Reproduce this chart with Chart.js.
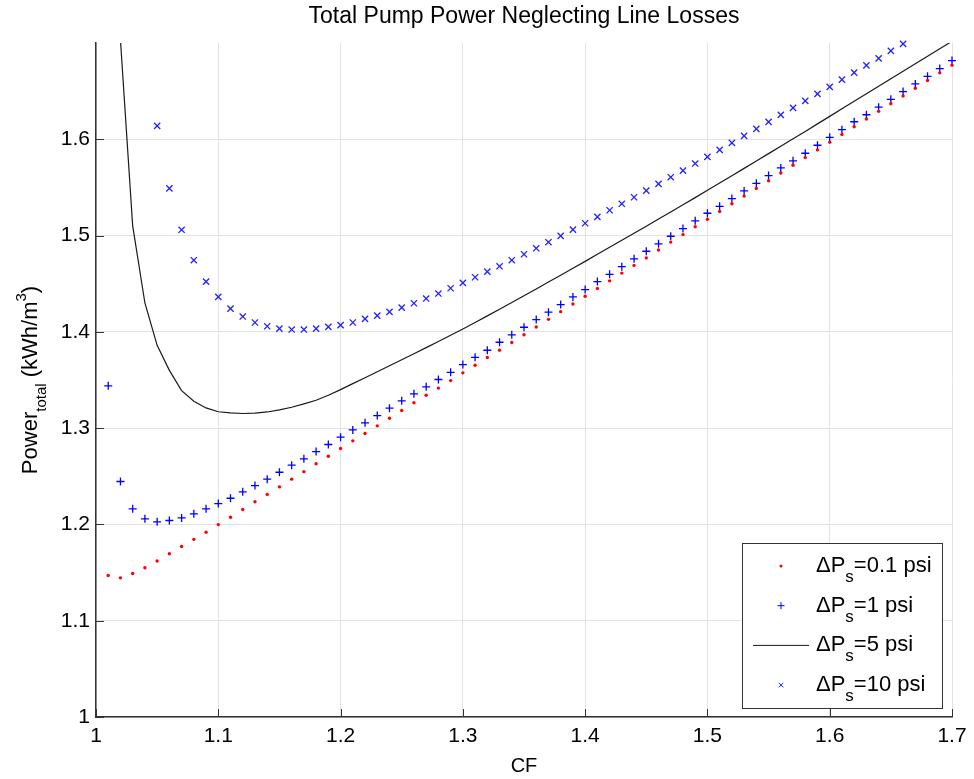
<!DOCTYPE html>
<html>
<head>
<meta charset="utf-8">
<title>Total Pump Power Neglecting Line Losses</title>
<script src="https://cdn.jsdelivr.net/npm/chart.js@4.4.1/dist/chart.umd.min.js"></script>
<style>
    html, body { margin: 0; padding: 0; background: #ffffff; }
    #contenedor { position: relative; width: 974px; height: 779px; }
</style>
</head>
<body>
<div id="contenedor"><canvas id="grafico-potencia"></canvas></div>
<script>
// Valores de CF (eje x)
const valoresCF = [
    1.01, 1.02, 1.03, 1.04, 1.05, 1.06, 1.07, 1.08, 1.09, 1.10,
    1.11, 1.12, 1.13, 1.14, 1.15, 1.16, 1.17, 1.18, 1.19, 1.20,
    1.21, 1.22, 1.23, 1.24, 1.25, 1.26, 1.27, 1.28, 1.29, 1.30,
    1.31, 1.32, 1.33, 1.34, 1.35, 1.36, 1.37, 1.38, 1.39, 1.40,
    1.41, 1.42, 1.43, 1.44, 1.45, 1.46, 1.47, 1.48, 1.49, 1.50,
    1.51, 1.52, 1.53, 1.54, 1.55, 1.56, 1.57, 1.58, 1.59, 1.60,
    1.61, 1.62, 1.63, 1.64, 1.65, 1.66, 1.67, 1.68, 1.69, 1.70
];

// Potencia total (kWh/m3) para cada caida de presion
const potencia01psi = [
    1.147, 1.1445, 1.149, 1.155, 1.162, 1.1695, 1.177, 1.1845, 1.192, 1.1998,
    1.2075, 1.2155, 1.2235, 1.2312, 1.239, 1.247, 1.2548, 1.263, 1.2708, 1.2788,
    1.2868, 1.2944, 1.3024, 1.3103, 1.3183, 1.3263, 1.3342, 1.3416, 1.3494, 1.3574,
    1.3653, 1.3733, 1.381, 1.389, 1.397, 1.405, 1.413, 1.421, 1.429, 1.437,
    1.445, 1.453, 1.461, 1.469, 1.4768, 1.485, 1.4932, 1.501, 1.5092, 1.517,
    1.525, 1.533, 1.541, 1.549, 1.557, 1.565, 1.573, 1.581, 1.589, 1.597,
    1.605, 1.613, 1.621, 1.629, 1.637, 1.645, 1.653, 1.661, 1.669, 1.677
];

const potencia1psi = [
    1.344, 1.2446, 1.2162, 1.2058, 1.2027, 1.2041, 1.2068, 1.211, 1.2162, 1.2217,
    1.2272, 1.2339, 1.2404, 1.247, 1.2542, 1.2615, 1.2681, 1.2757, 1.283, 1.2906,
    1.2982, 1.3055, 1.3131, 1.3207, 1.3284, 1.3356, 1.3429, 1.3505, 1.358, 1.366,
    1.3736, 1.3809, 1.3892, 1.3969, 1.4048, 1.4128, 1.4204, 1.4283, 1.4363, 1.4439,
    1.4522, 1.4598, 1.4677, 1.4758, 1.4837, 1.4914, 1.4993, 1.5073, 1.5153, 1.5232,
    1.5304, 1.5384, 1.5464, 1.5543, 1.5623, 1.5703, 1.5776, 1.5855, 1.5938, 1.602,
    1.61, 1.6182, 1.6255, 1.6334, 1.6415, 1.6495, 1.6575, 1.6654, 1.6734, 1.6817
];

const potencia5psi = [
    2.1, 1.703, 1.51, 1.43, 1.386, 1.36, 1.339, 1.328, 1.321, 1.317,
    1.3158, 1.3152, 1.3155, 1.3168, 1.319, 1.3217, 1.3252, 1.329, 1.3342, 1.340,
    1.3462, 1.3524, 1.3586, 1.3648, 1.371, 1.3772, 1.3836, 1.39, 1.3965, 1.403,
    1.4098, 1.4166, 1.4235, 1.4305, 1.4375, 1.4446, 1.4517, 1.4588, 1.466, 1.4732,
    1.4805, 1.4878, 1.4951, 1.5024, 1.5097, 1.5171, 1.5245, 1.5319, 1.5394, 1.547,
    1.5546, 1.5622, 1.5698, 1.5774, 1.5851, 1.5928, 1.6005, 1.6082, 1.616, 1.6238,
    1.6316, 1.6394, 1.6472, 1.655, 1.6628, 1.6706, 1.6784, 1.6862, 1.694, 1.7018
];

// null = fuera del rango visible
const potencia10psi = [
    null, null, null, null, 1.614, 1.549, 1.506, 1.4744, 1.4522, 1.4363,
    1.4242, 1.4159, 1.4097, 1.4058, 1.4034, 1.4024, 1.4024, 1.4034, 1.4052, 1.407,
    1.4097, 1.4135, 1.4169, 1.4208, 1.4252, 1.4297, 1.4346, 1.4398, 1.4453, 1.4509,
    1.4567, 1.4626, 1.4681, 1.4744, 1.4806, 1.4868, 1.4931, 1.4997, 1.5062, 1.5128,
    1.5194, 1.5263, 1.533, 1.5398, 1.5467, 1.5537, 1.5606, 1.5675, 1.5748, 1.5817,
    1.589, 1.5963, 1.6035, 1.6108, 1.6181, 1.6253, 1.6326, 1.6399, 1.6471, 1.6544,
    1.662, 1.6693, 1.6768, 1.6841, 1.6918, 1.6991, null, null, null, null
];

// Textos de la leyenda (la parte "s" va como subindice)
const etiquetasLeyenda = ['=0.1 psi', '=1 psi', '=5 psi', '=10 psi'];

const tituloGrafico = 'Total Pump Power Neglecting Line Losses';

const fuente = "'Liberation Sans', Arial, Helvetica, sans-serif";

// Convierte dos listas en puntos {x, y}
function aPuntos(xs, ys) {
    const puntos = [];
    for (let i = 0; i < xs.length; i++) {
        if (ys[i] !== null) puntos.push({ x: xs[i], y: ys[i] });
    }
    return puntos;
}

// Marcas de los ejes hacia dentro (como en MATLAB)
const marcasInternas = {
    id: 'marcasInternas',
    afterDatasetsDraw(chart) {
        const { ctx, chartArea } = chart;
        const ejeX = chart.scales.x;
        const ejeY = chart.scales.y;
        ctx.save();
        ctx.strokeStyle = '#333333';
        ctx.lineWidth = 1;
        ctx.beginPath();
        ejeX.ticks.forEach(t => {
            const px = Math.round(ejeX.getPixelForValue(t.value)) + 0.5;
            ctx.moveTo(px, chartArea.bottom);
            ctx.lineTo(px, chartArea.bottom - 8);
        });
        ejeY.ticks.forEach(t => {
            const py = Math.round(ejeY.getPixelForValue(t.value)) + 0.5;
            ctx.moveTo(chartArea.left, py);
            ctx.lineTo(chartArea.left + 8, py);
        });
        ctx.stroke();
        ctx.restore();
    }
};

// Titulo centrado sobre el area de los ejes y titulo del eje y con subindice y superindice
const textosExtra = {
    id: 'textosExtra',
    afterDraw(chart) {
        const { ctx, chartArea } = chart;
        ctx.save();
        ctx.fillStyle = '#000000';
        ctx.font = '23px ' + fuente;
        ctx.textAlign = 'center';
        ctx.textBaseline = 'middle';
        ctx.fillText(tituloGrafico, (chartArea.left + chartArea.right) / 2, 17);
        ctx.restore();

        const partes = [
            { t: 'Power', tam: 22, dy: 0 },
            { t: 'total', tam: 15, dy: 9 },
            { t: ' (kWh/m', tam: 22, dy: 0 },
            { t: '3', tam: 15, dy: -11 },
            { t: ')', tam: 22, dy: 0 }
        ];
        ctx.save();
        let ancho = 0;
        partes.forEach(p => {
            ctx.font = p.tam + 'px ' + fuente;
            p.w = ctx.measureText(p.t).width;
            ancho += p.w;
        });
        ctx.translate(37, (chartArea.top + chartArea.bottom) / 2);
        ctx.rotate(-Math.PI / 2);
        ctx.fillStyle = '#000000';
        ctx.textBaseline = 'alphabetic';
        let x = -ancho / 2;
        partes.forEach(p => {
            ctx.font = p.tam + 'px ' + fuente;
            ctx.fillText(p.t, x, p.dy);
            x += p.w;
        });
        ctx.restore();
    }
};

// Leyenda dibujada dentro del area del grafico
const leyendaInterna = {
    id: 'leyendaInterna',
    afterDatasetsDraw(chart) {
        const { ctx, chartArea } = chart;
        const caja = { x: chartArea.right - 210, y: chartArea.bottom - 174, w: 200, h: 165 };
        ctx.save();
        ctx.fillStyle = '#ffffff';
        ctx.fillRect(caja.x, caja.y, caja.w, caja.h);
        ctx.strokeStyle = '#333333';
        ctx.lineWidth = 1;
        ctx.strokeRect(Math.round(caja.x) + 0.5, Math.round(caja.y) + 0.5, caja.w, caja.h);

        const xMarca = caja.x + 39;
        const xTexto = caja.x + 74;
        chart.data.datasets.forEach((ds, i) => {
            const yFila = caja.y + 23 + i * 39.7;
            // muestra del simbolo
            if (ds.showLine) {
                ctx.strokeStyle = ds.borderColor;
                ctx.lineWidth = 1;
                ctx.beginPath();
                ctx.moveTo(caja.x + 11, yFila);
                ctx.lineTo(caja.x + 67, yFila);
                ctx.stroke();
            } else if (ds.pointStyle === 'circle') {
                ctx.fillStyle = ds.backgroundColor;
                ctx.beginPath();
                ctx.arc(xMarca, yFila, ds.leyendaRadio, 0, Math.PI * 2);
                ctx.fill();
            } else {
                ctx.strokeStyle = ds.borderColor;
                ctx.lineWidth = 1;
                Chart.helpers.drawPoint(ctx, {
                    pointStyle: ds.pointStyle,
                    radius: ds.leyendaRadio,
                    borderWidth: 1,
                    rotation: 0
                }, xMarca, yFila);
            }
            // texto: "ΔP" + subindice "s" + resto
            const base = yFila + 6;
            ctx.fillStyle = '#000000';
            ctx.textBaseline = 'alphabetic';
            ctx.font = '22px ' + fuente;
            ctx.fillText('\u0394P', xTexto, base);
            let x = xTexto + ctx.measureText('\u0394P').width;
            ctx.font = '17px ' + fuente;
            ctx.fillText('s', x, base + 10);
            x += ctx.measureText('s').width;
            ctx.font = '22px ' + fuente;
            ctx.fillText(etiquetasLeyenda[i], x, base);
        });
        ctx.restore();
    }
};

const ctx = document.getElementById('grafico-potencia').getContext('2d');

const grafico = new Chart(ctx, {
    type: 'scatter',
    data: {
        datasets: [
            {
                label: '\u0394Ps=0.1 psi',
                data: aPuntos(valoresCF, potencia01psi),
                pointStyle: 'circle',
                pointRadius: 1.7,
                leyendaRadio: 1.5,
                backgroundColor: '#ff0000',
                borderColor: '#ff0000',
                borderWidth: 0,
                clip: false
            },
            {
                label: '\u0394Ps=1 psi',
                data: aPuntos(valoresCF, potencia1psi),
                pointStyle: 'cross',
                pointRadius: 4,
                leyendaRadio: 3.5,
                backgroundColor: '#0000ff',
                borderColor: '#0000ff',
                borderWidth: 1.3,
                clip: false
            },
            {
                label: '\u0394Ps=5 psi',
                data: aPuntos(valoresCF, potencia5psi),
                showLine: true,
                pointRadius: 0,
                borderColor: '#1a1a1a',
                borderWidth: 1.2,
                tension: 0
            },
            {
                label: '\u0394Ps=10 psi',
                data: aPuntos(valoresCF, potencia10psi),
                pointStyle: 'crossRot',
                pointRadius: 4.4,
                leyendaRadio: 3.2,
                backgroundColor: '#2222ff',
                borderColor: '#2222ff',
                borderWidth: 1.3,
                clip: false
            }
        ]
    },
    options: {
        responsive: true,
        maintainAspectRatio: false,
        animation: false,
        events: [],
        layout: {
            padding: { left: 0, right: 22, top: 43, bottom: 0 }
        },
        plugins: {
            legend: { display: false },
            tooltip: { enabled: false },
            title: { display: false }
        },
        scales: {
            x: {
                type: 'linear',
                min: 1,
                max: 1.7,
                ticks: {
                    stepSize: 0.1,
                    color: '#000000',
                    padding: 7,
                    maxRotation: 0,
                    font: { family: fuente, size: 21 },
                    callback: v => String(+v.toFixed(1))
                },
                grid: { color: '#e2e2e2', lineWidth: 1, drawTicks: false },
                border: { color: '#333333', width: 1.5 },
                title: {
                    display: true,
                    text: 'CF',
                    color: '#000000',
                    font: { family: fuente, size: 20 },
                    padding: { top: 0, bottom: 1 }
                },
                afterFit: function(escala) { escala.height = 62; }
            },
            y: {
                type: 'linear',
                min: 1,
                max: 1.7,
                ticks: {
                    stepSize: 0.1,
                    color: '#000000',
                    padding: 6,
                    font: { family: fuente, size: 21 },
                    callback: v => String(+v.toFixed(1))
                },
                grid: { color: '#e2e2e2', lineWidth: 1, drawTicks: false },
                border: { color: '#333333', width: 1.5 },
                afterBuildTicks: function(escala) {
                    // sin etiqueta en el borde superior
                    escala.ticks = escala.ticks.filter(t => t.value < 1.65);
                },
                afterFit: function(escala) { escala.width = 96; }
            }
        }
    },
    plugins: [marcasInternas, leyendaInterna, textosExtra]
});
</script>
</body>
</html>
